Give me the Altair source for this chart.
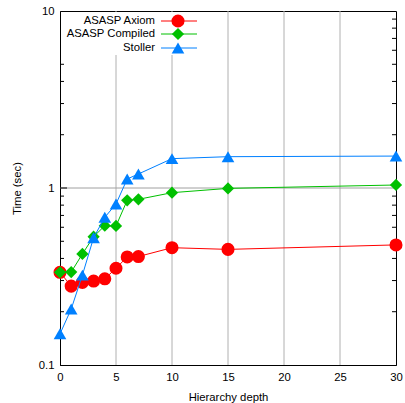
import altair as alt
import pandas as pd

depth = [0, 1, 2, 3, 4, 5, 6, 7, 10, 15, 30]
axiom = [0.334, 0.279, 0.293, 0.298, 0.307, 0.352, 0.408, 0.41, 0.46, 0.45, 0.477]
compiled = [0.334, 0.335, 0.424, 0.531, 0.612, 0.61, 0.852, 0.863, 0.941, 0.995, 1.04]
stoller = [0.150, 0.207, 0.322, 0.524, 0.683, 0.812, 1.124, 1.2, 1.465, 1.503, 1.515]

series_names = ["ASASP Axiom", "ASASP Compiled", "Stoller"]
series_values = [axiom, compiled, stoller]
series_colors = ["#ff0000", "#00c000", "#0080ff"]
series_shapes = ["circle", "diamond", "triangle-up"]
series_sizes = [170, 150, 160]

x_ticks = [0, 5, 10, 15, 20, 25, 30]
x_grid = [5, 10, 15, 20, 25]
y_ticks = [0.1, 1, 10]
y_minor = [0.2, 0.3, 0.4, 0.5, 0.6, 0.7, 0.8, 0.9, 2, 3, 4, 5, 6, 7, 8, 9]

W, H = 336, 354
FONT = "Liberation Sans"

xs = alt.Scale(domain=[0, 30], nice=False, zero=False)
ys = alt.Scale(type="log", domain=[0.1, 10], nice=False)

xaxis = alt.Axis(values=x_ticks, ticks=False, grid=False, labelPadding=6,
                 title="Hierarchy depth", titlePadding=9, labelFontSize=11.3,
                 titleFontSize=11.3, titleFontWeight="normal", labelColor="black",
                 titleColor="black", domainColor="black", labelFont=FONT, titleFont=FONT,
                 labelFlush=False)
yaxis = alt.Axis(values=y_ticks, ticks=False, grid=False, labelPadding=6, format="~g",
                 title="Time (sec)", titlePadding=16, labelFontSize=11.3,
                 titleFontSize=11.3, titleFontWeight="normal", labelColor="black",
                 titleColor="black", domainColor="black", labelFont=FONT, titleFont=FONT,
                 labelFlush=False)


def X(field):
    return alt.X(f"{field}:Q", scale=xs, axis=xaxis)


def Y(field):
    return alt.Y(f"{field}:Q", scale=ys, axis=yaxis)


grid_df = pd.DataFrame({"g": x_grid})
vgrid = alt.Chart(grid_df).mark_rule(color="#b0b0b0", strokeWidth=1).encode(
    x=X("g"), y=alt.value(0), y2=alt.value(H)
)
hgrid = alt.Chart(pd.DataFrame({"v": [1]})).mark_rule(color="#a0a0a0", strokeWidth=1).encode(
    y=Y("v"), x=alt.value(0), x2=alt.value(W)
)
minor_df = pd.DataFrame({"m": y_minor})
lticks = alt.Chart(minor_df).mark_rule(color="black").encode(
    y=Y("m"), x=alt.value(0), x2=alt.value(4)
)
rticks = alt.Chart(minor_df).mark_rule(color="black").encode(
    y=Y("m"), x=alt.value(W - 4), x2=alt.value(W)
)
major_df = pd.DataFrame({"m": [1]})
lmajor = alt.Chart(major_df).mark_rule(color="black").encode(
    y=Y("m"), x=alt.value(0), x2=alt.value(7)
)

legend_bg = alt.Chart(pd.DataFrame({"a": [0]})).mark_rect(color="white").encode(
    x=alt.value(1), x2=alt.value(150), y=alt.value(1), y2=alt.value(44)
)

layers = [vgrid, hgrid, lticks, rticks, lmajor, legend_bg]

for name, vals, col, shp, sz in zip(series_names, series_values, series_colors,
                                     series_shapes, series_sizes):
    df = pd.DataFrame({"depth": depth, "time": vals, "series": name})
    line = alt.Chart(df).mark_line(color=col, strokeWidth=1, clip=False).encode(
        x=X("depth"), y=Y("time")
    )
    pts = alt.Chart(df).mark_point(color=col, filled=True, opacity=1, shape=shp,
                                   size=sz, clip=False).encode(
        x=X("depth"), y=Y("time")
    )
    layers += [line, pts]

legend_rows = [10, 23, 37]
for name, col, shp, sz, ry in zip(series_names, series_colors, series_shapes,
                                  series_sizes, legend_rows):
    d = pd.DataFrame({"series": [name]})
    base = alt.Chart(d)
    layers.append(base.mark_text(align="right", baseline="middle", fontSize=11.3,
                                 font=FONT, color="black").encode(
        text="series:N", x=alt.value(95), y=alt.value(ry)))
    layers.append(base.mark_rule(color=col, strokeWidth=1).encode(
        x=alt.value(101), x2=alt.value(137), y=alt.value(ry)))
    layers.append(base.mark_point(color=col, filled=True, opacity=1, shape=shp,
                                  size=sz).encode(
        x=alt.value(118), y=alt.value(ry)))

chart = alt.layer(*layers).properties(
    width=W, height=H,
    autosize=alt.AutoSizeParams(type="none"),
    padding={"left": 60, "top": 11, "right": 9, "bottom": 38},
    background="white",
).configure_view(stroke="black", strokeWidth=1)

chart.save("out.html", embed_options={"renderer": "svg", "actions": False})
